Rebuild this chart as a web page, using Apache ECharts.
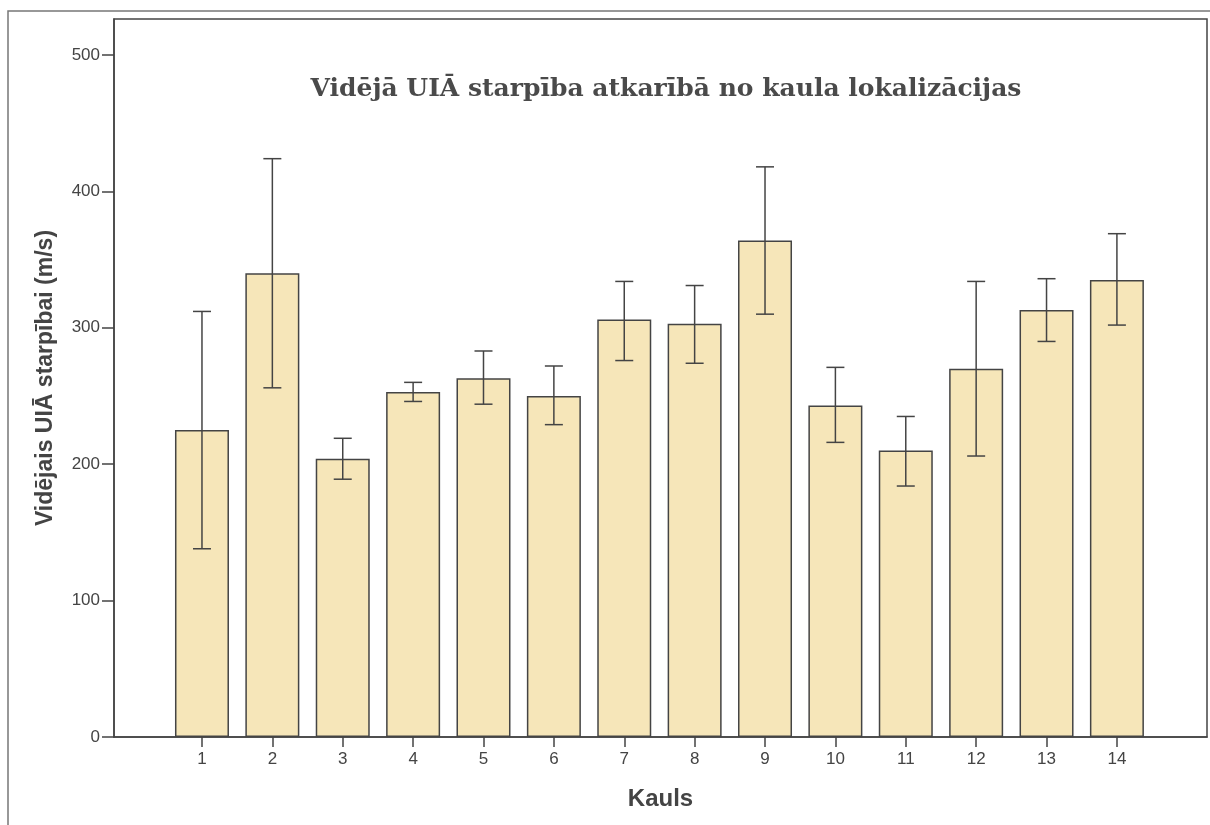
<!DOCTYPE html>
<html>
<head>
<meta charset="utf-8">
<script src="https://cdn.jsdelivr.net/npm/echarts@6/dist/echarts.min.js"></script>
<style>
html, body { margin: 0; padding: 0; background: #fff; }
#chart { width: 1210px; height: 825px; }
</style>
</head>
<body>
<div id="chart"></div>
<script>
'use strict';
// dati
var kauli = [1, 2, 3, 4, 5, 6, 7, 8, 9, 10, 11, 12, 13, 14];
var videjais = [225, 340, 204, 253, 263, 250, 306, 303, 364, 243, 210, 270, 313, 335];
var kludaAugsa = [312, 424, 219, 260, 283, 272, 334, 331, 418, 271, 235, 334, 336, 369];
var kludaApaksa = [138, 256, 189, 246, 244, 229, 276, 274, 310, 216, 184, 206, 290, 302];
var yTicks = [0, 100, 200, 300, 400, 500];

var axisColor = '#444';

var myChart = echarts.init(document.getElementById('chart'));

var option = {
    backgroundColor: '#fff',
    animation: false,
    title: {
        text: 'Vidējā UIĀ starpība atkarībā no kaula lokalizācijas',
        left: 661,
        top: 72,
        textAlign: 'center',
        textStyle: {
            fontFamily: 'DejaVu Serif',
            fontWeight: 'bold',
            fontSize: 25,
            color: '#4a4a4a'
        }
    },
    graphic: [{
        type: 'rect',
        shape: { x: 8, y: 11, width: 1220, height: 840 },
        style: { fill: 'none', stroke: '#777', lineWidth: 1.5 },
        silent: true
    }],
    grid: {
        left: 114,
        right: 3,
        top: 19,
        bottom: 88,
        show: true,
        borderColor: axisColor,
        borderWidth: 1.5
    },
    xAxis: {
        type: 'value',
        min: -0.25,
        max: 15.28,
        name: 'Kauls',
        nameLocation: 'middle',
        nameGap: 50,
        nameTextStyle: { fontFamily: 'Liberation Sans', fontWeight: 'bold', fontSize: 24, color: '#444' },
        splitLine: { show: false },
        axisLine: { onZero: false, lineStyle: { color: axisColor, width: 1.5 } },
        axisTick: { customValues: kauli, length: 10, lineStyle: { color: axisColor, width: 1.5 } },
        axisLabel: { customValues: kauli, margin: 14, fontFamily: 'Liberation Sans', fontSize: 17, color: '#444' }
    },
    yAxis: {
        type: 'value',
        min: 0,
        max: 526.4,
        name: 'Vidējais UIĀ starpībai (m/s)',
        nameLocation: 'middle',
        nameGap: 57,
        nameTextStyle: { fontFamily: 'Liberation Sans', fontWeight: 'bold', fontSize: 23, color: '#444' },
        splitLine: { show: false },
        axisLine: { show: true, onZero: false, lineStyle: { color: axisColor, width: 1.5 } },
        axisTick: { show: true, customValues: yTicks, length: 12, lineStyle: { color: axisColor, width: 1.5 } },
        axisLabel: { customValues: yTicks, margin: 14, fontFamily: 'Liberation Sans', fontSize: 17, color: '#444' }
    },
    series: [{
        type: 'bar',
        barWidth: 54,
        itemStyle: { color: '#f6e6b9', borderColor: '#444', borderWidth: 1.5 },
        data: kauli.map(function (k, i) { return [k, videjais[i]]; })
    }, {
        type: 'custom',
        data: kauli.map(function (k, i) { return [k, kludaApaksa[i], kludaAugsa[i]]; }),
        renderItem: function (params, api) {
            var x = api.value(0);
            var lo = api.coord([x, api.value(1)]);
            var hi = api.coord([x, api.value(2)]);
            var half = 9;
            var st = { stroke: '#444', lineWidth: 1.5 };
            return {
                type: 'group',
                children: [
                    { type: 'line', shape: { x1: hi[0], y1: hi[1], x2: lo[0], y2: lo[1] }, style: st },
                    { type: 'line', shape: { x1: hi[0] - half, y1: hi[1], x2: hi[0] + half, y2: hi[1] }, style: st },
                    { type: 'line', shape: { x1: lo[0] - half, y1: lo[1], x2: lo[0] + half, y2: lo[1] }, style: st }
                ]
            };
        },
        z: 3
    }]
};

myChart.setOption(option);
</script>
</body>
</html>
